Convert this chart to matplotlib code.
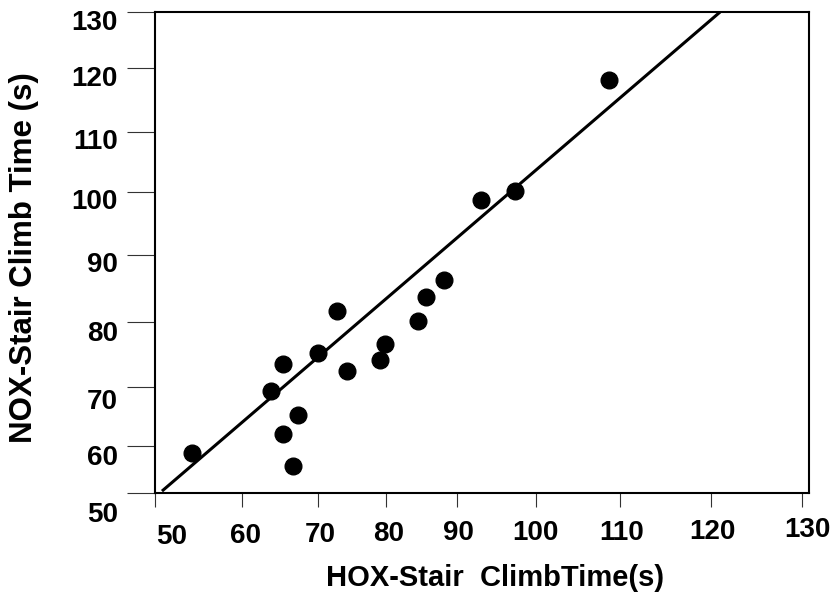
import numpy as np
import matplotlib
matplotlib.use("Agg")
import matplotlib.pyplot as plt

plt.rcParams['font.family'] = ['Liberation Sans', 'DejaVu Sans']

# ---- data ----
hox_time = [54.3, 63.8, 65.4, 65.4, 66.7, 67.4, 70.0, 72.8, 74.3, 79.1, 79.9,
            84.5, 85.7, 88.1, 93.0, 97.3, 108.7]
nox_time = [58.5, 69.4, 73.6, 62.1, 55.8, 65.3, 75.2, 81.6, 72.4, 74.1, 76.6,
            80.2, 83.7, 86.3, 98.8, 100.1, 118.1]
fit_x = [50.8, 121.0]
fit_y = [50.4, 130.0]
tick_values = [50, 60, 70, 80, 90, 100, 110, 120, 130]
tick_labels = ["50", "60", "70", "80", "90", "100", "110", "120", "130"]
x_title = "HOX-Stair  ClimbTime(s)"
y_title = "NOX-Stair Climb Time (s)"

# ---- hand-drawn (uneven) axis calibration, in pixels along each axis ----
x_tick_px = [0, 87, 163, 231, 302, 381, 465, 556, 647]
y_tick_px = [0, 47, 106, 171, 238, 301, 361, 425, 481]


def make_scale(vals, pos):
    vals = np.asarray(vals, float)
    pos = np.asarray(pos, float)
    s0 = (pos[1] - pos[0]) / (vals[1] - vals[0])
    s1 = (pos[-1] - pos[-2]) / (vals[-1] - vals[-2])

    def fwd(v):
        v = np.asarray(v, float)
        out = np.interp(v, vals, pos)
        out = np.where(v < vals[0], pos[0] + (v - vals[0]) * s0, out)
        out = np.where(v > vals[-1], pos[-1] + (v - vals[-1]) * s1, out)
        return out

    def inv(p):
        p = np.asarray(p, float)
        out = np.interp(p, pos, vals)
        out = np.where(p < pos[0], vals[0] + (p - pos[0]) / s0, out)
        out = np.where(p > pos[-1], vals[-1] + (p - pos[-1]) / s1, out)
        return out

    return fwd, inv


W, H = 838, 594
fig = plt.figure(figsize=(W / 100, H / 100), dpi=100)
ax = fig.add_axes([155 / W, (H - 493) / H, 654 / W, 481 / H])

ax.set_xscale('function', functions=make_scale(tick_values, x_tick_px))
ax.set_yscale('function', functions=make_scale(tick_values, y_tick_px))

ax.plot(fit_x, fit_y, color='black', lw=2.2, solid_capstyle='butt', zorder=2)
ax.plot(hox_time, nox_time, 'o', color='black', markersize=12, zorder=3)

ax.set_xlim(50, 130 + 7 / 91 * 10)
ax.set_ylim(50, 130)
ax.set_xticks(tick_values)
ax.set_yticks(tick_values)
ax.minorticks_off()

for sp in ax.spines.values():
    sp.set_linewidth(1.5)
    sp.set_color('black')

ax.tick_params(axis='x', direction='out', length=10, width=0.8, color='#333333',
               labelbottom=False)
ax.tick_params(axis='y', direction='out', length=20, width=0.8, color='#333333',
               labelleft=False)

font = dict(fontsize=20, fontweight='bold', color='black')

# tick labels (placed like the original, slightly offset from the ticks)
x_lab_dx = [17, 3, 2, 3, 1, -1, 2, 1, 5]
x_lab_dy = [44, 43, 42, 41, 40, 40, 40, 39, 37]
for v, s, dx, dy in zip(tick_values, tick_labels, x_lab_dx, x_lab_dy):
    ax.annotate(s, xy=(v, 0), xycoords=ax.get_xaxis_transform(),
                xytext=(dx, -dy), textcoords='offset pixels',
                ha='center', va='center', annotation_clip=False, **font)

y_lab_dy = [22, 12, 15, 12, 10, 10, 10, 11, 10.5]
for v, s, dy in zip(tick_values, tick_labels, y_lab_dy):
    ax.annotate(s, xy=(0, v), xycoords=ax.get_yaxis_transform(),
                xytext=(-37, -dy), textcoords='offset pixels',
                ha='right', va='center', annotation_clip=False, **font)

fig.text(495 / W, 1 - 578 / H, x_title, ha='center', va='center',
         fontsize=21, fontweight='bold', color='black')
fig.text(24 / W, 1 - 258 / H, y_title, ha='center', va='center',
         rotation=90, fontsize=22.5, fontweight='bold', color='black')

fig.savefig("out.png", dpi=100, facecolor='white')
